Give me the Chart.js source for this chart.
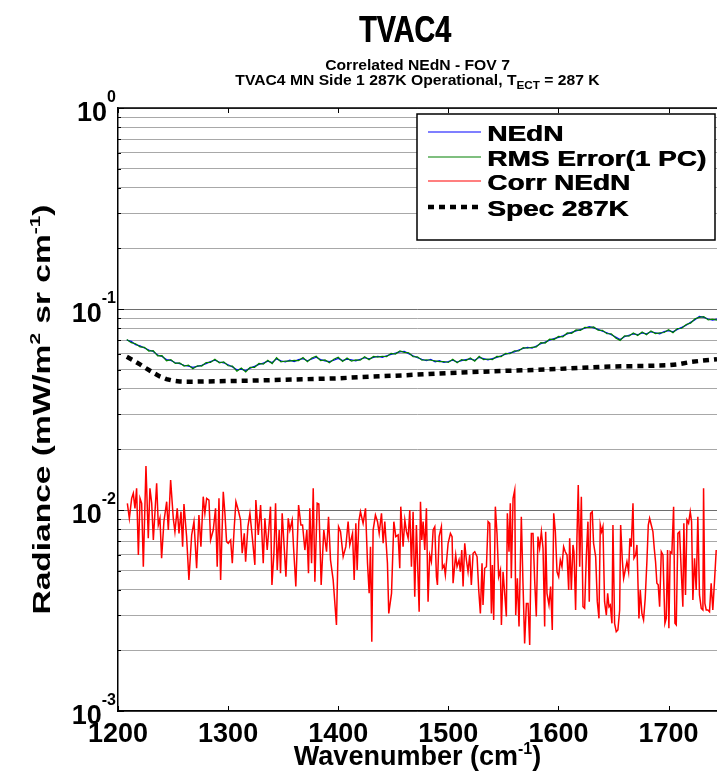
<!DOCTYPE html>
<html><head><meta charset="utf-8">
<script src="https://cdn.jsdelivr.net/npm/chart.js@4.4.1/dist/chart.umd.min.js"></script>
<style>html,body{margin:0;padding:0;background:#fff;}#wrap{width:717px;height:771px;}</style>
</head><body><div id="wrap"><canvas id="c" width="717" height="771"></canvas></div>
<script>
// ---------- texts ----------
const titleText = 'TVAC4';
const subtitle1 = 'Correlated NEdN - FOV 7';
const subtitle2a = 'TVAC4 MN Side 1 287K Operational, T';
const subtitle2sub = 'ECT';
const subtitle2b = ' = 287 K';
const xTitleMain = 'Wavenumber (cm';
const xTitleSup = '-1';
const yTitleA = 'Radiance (mW/m';
const yTitleSup1 = '2';
const yTitleB = ' sr cm';
const yTitleSup2 = '-1';
const legendLabels = ['NEdN', 'RMS Error(1 PC)', 'Corr NEdN', 'Spec 287K'];

// ---------- ticks ----------
const xTicks = [1200, 1300, 1400, 1500, 1600, 1700];
const xTickLabels = ['1200', '1300', '1400', '1500', '1600', '1700'];
const yDecades = [0.001, 0.01, 0.1, 1];
const yDecadeExps = ['-3', '-2', '-1', '0'];
const yMinorMultipliers = [2, 3, 4, 5, 6, 7, 8, 9];

// ---------- data ----------
const nednWn = [1208,1212,1216,1220,1224,1228,1232,1236,1240,1244,1248,1252,1256,1260,1264,1268,1272,1276,1280,1284,1288,1292,1296,1300,1304,1308,1312,1316,1320,1324,1328,1332,1336,1340,1344,1348,1352,1356,1360,1364,1368,1372,1376,1380,1384,1388,1392,1396,1400,1404,1408,1412,1416,1420,1424,1428,1432,1436,1440,1444,1448,1452,1456,1460,1464,1468,1472,1476,1480,1484,1488,1492,1496,1500,1504,1508,1512,1516,1520,1524,1528,1532,1536,1540,1544,1548,1552,1556,1560,1564,1568,1572,1576,1580,1584,1588,1592,1596,1600,1604,1608,1612,1616,1620,1624,1628,1632,1636,1640,1644,1648,1652,1656,1660,1664,1668,1672,1676,1680,1684,1688,1692,1696,1700,1704,1708,1712,1716,1720,1724,1728,1732,1736,1740,1744];
const nednVal = [0.0700,0.0690,0.0665,0.0655,0.0640,0.0625,0.0615,0.0590,0.0580,0.0560,0.0555,0.0540,0.0535,0.0525,0.0520,0.0512,0.0518,0.0525,0.0535,0.0548,0.0556,0.0545,0.0540,0.0528,0.0515,0.0498,0.0502,0.0494,0.0508,0.0518,0.0530,0.0538,0.0550,0.0542,0.0565,0.0552,0.0545,0.0556,0.0548,0.0560,0.0566,0.0553,0.0564,0.0575,0.0560,0.0552,0.0547,0.0556,0.0568,0.0554,0.0563,0.0558,0.0552,0.0562,0.0572,0.0565,0.0574,0.0582,0.0575,0.0585,0.0595,0.0603,0.0612,0.0615,0.0600,0.0585,0.0572,0.0562,0.0553,0.0562,0.0546,0.0553,0.0542,0.0548,0.0556,0.0545,0.0554,0.0560,0.0565,0.0556,0.0575,0.0566,0.0558,0.0566,0.0575,0.0585,0.0596,0.0605,0.0612,0.0625,0.0636,0.0645,0.0638,0.0655,0.0672,0.0684,0.0700,0.0712,0.0722,0.0735,0.0752,0.0765,0.0778,0.0790,0.0802,0.0818,0.0805,0.0792,0.0775,0.0762,0.0745,0.0725,0.0705,0.0728,0.0740,0.0752,0.0745,0.0760,0.0752,0.0770,0.0762,0.0752,0.0772,0.0780,0.0770,0.0792,0.0810,0.0830,0.0858,0.0885,0.0918,0.0908,0.0892,0.0880,0.0890];
const rmsVal = [0.0705,0.0680,0.0672,0.0648,0.0645,0.0618,0.0620,0.0585,0.0586,0.0552,0.0560,0.0536,0.0540,0.0520,0.0526,0.0505,0.0522,0.0520,0.0541,0.0542,0.0562,0.0540,0.0546,0.0522,0.0520,0.0490,0.0508,0.0486,0.0513,0.0512,0.0536,0.0532,0.0556,0.0535,0.0572,0.0546,0.0551,0.0550,0.0555,0.0553,0.0573,0.0547,0.0570,0.0582,0.0553,0.0558,0.0540,0.0562,0.0575,0.0548,0.0570,0.0551,0.0558,0.0556,0.0579,0.0559,0.0581,0.0576,0.0582,0.0579,0.0602,0.0597,0.0619,0.0608,0.0606,0.0579,0.0578,0.0556,0.0559,0.0556,0.0552,0.0547,0.0548,0.0542,0.0562,0.0540,0.0560,0.0554,0.0571,0.0550,0.0581,0.0560,0.0564,0.0560,0.0581,0.0579,0.0602,0.0599,0.0619,0.0618,0.0643,0.0638,0.0645,0.0648,0.0680,0.0677,0.0708,0.0705,0.0730,0.0727,0.0760,0.0757,0.0787,0.0782,0.0811,0.0809,0.0814,0.0784,0.0783,0.0754,0.0753,0.0718,0.0698,0.0736,0.0733,0.0760,0.0738,0.0768,0.0745,0.0778,0.0755,0.0760,0.0764,0.0788,0.0762,0.0800,0.0802,0.0838,0.0850,0.0894,0.0909,0.0917,0.0883,0.0889,0.0881];

const corrWn = [1208.5,1210.3,1212.4,1213.9,1215.4,1216.9,1218.5,1220.0,1221.5,1223.0,1225.4,1227.5,1229.0,1230.6,1232.1,1235.1,1236.6,1238.1,1239.6,1241.7,1244.2,1245.7,1247.8,1250.2,1251.7,1253.8,1255.4,1257.2,1258.7,1259.9,1262.3,1264.4,1266.9,1269.0,1271.4,1273.5,1275.3,1277.4,1278.9,1280.5,1282.6,1284.1,1286.5,1288.6,1290.1,1291.7,1293.2,1295.6,1297.1,1298.6,1300.1,1302.3,1303.8,1305.6,1307.1,1309.2,1311.3,1312.8,1314.7,1315.9,1318.0,1319.8,1321.9,1324.3,1325.2,1327.4,1329.5,1331.9,1333.4,1335.5,1338.5,1339.8,1341.6,1343.1,1344.6,1346.4,1347.6,1349.1,1350.9,1352.5,1354.6,1356.1,1358.2,1359.4,1361.5,1364.0,1366.1,1367.6,1369.7,1371.5,1373.0,1374.2,1375.8,1377.3,1378.8,1380.9,1382.4,1384.5,1386.9,1389.4,1391.2,1393.0,1395.4,1398.4,1400.3,1402.1,1404.5,1406.9,1409.0,1410.5,1413.0,1414.5,1416.0,1417.2,1418.7,1420.2,1422.6,1424.8,1426.6,1428.1,1429.3,1430.5,1431.7,1433.8,1435.7,1437.2,1439.3,1440.8,1442.3,1444.7,1445.9,1448.4,1450.5,1452.3,1454.4,1455.9,1456.8,1458.9,1460.5,1462.0,1463.5,1465.0,1466.5,1468.0,1469.5,1471.0,1473.5,1474.7,1475.9,1477.1,1478.6,1480.1,1481.6,1483.1,1484.6,1486.2,1487.7,1489.2,1490.1,1491.6,1493.7,1494.6,1496.1,1497.3,1499.8,1501.9,1503.4,1504.3,1505.8,1506.7,1507.9,1509.7,1510.9,1512.2,1513.4,1514.9,1516.4,1517.9,1519.4,1520.9,1522.5,1524.0,1526.1,1527.6,1529.1,1530.6,1531.5,1533.0,1534.6,1536.1,1537.6,1539.1,1540.0,1541.2,1542.7,1544.2,1545.7,1547.3,1548.2,1549.7,1551.2,1552.7,1553.6,1555.1,1556.3,1557.2,1558.8,1560.3,1561.2,1562.7,1564.2,1566.3,1567.8,1569.3,1570.9,1572.4,1573.9,1575.4,1576.9,1578.4,1579.9,1581.4,1582.9,1584.5,1586.0,1587.5,1588.4,1589.6,1591.4,1592.9,1594.4,1595.7,1597.2,1598.7,1600.2,1601.7,1603.2,1604.7,1606.2,1607.8,1609.3,1610.2,1611.7,1613.2,1614.1,1615.6,1616.8,1618.0,1619.3,1620.8,1622.3,1623.8,1625.3,1626.8,1628.0,1629.2,1630.7,1631.9,1633.8,1635.3,1636.8,1638.0,1639.2,1640.4,1641.9,1643.5,1644.7,1645.9,1647.1,1648.6,1649.5,1651.0,1652.5,1654.0,1655.6,1656.5,1658.0,1659.2,1660.7,1662.2,1663.7,1664.9,1666.1,1667.7,1668.6,1670.1,1671.3,1673.1,1674.3,1675.8,1677.3,1678.8,1680.4,1681.6,1682.8,1684.3,1685.8,1687.0,1688.2,1689.4,1690.6,1691.9,1693.4,1694.9,1696.7,1697.9,1699.1,1700.3,1701.5,1703.0,1704.6,1705.8,1707.0,1708.5,1710.0,1711.5,1713.0,1713.9,1715.4,1716.7,1718.2,1719.7,1720.9,1722.1,1723.6,1725.1,1726.6,1728.1,1729.7,1731.2,1731.8,1733.0,1734.2,1735.7,1737.2,1738.7,1740.2,1741.8,1743.3];
const corrVal = [0.0108,0.00909,0.01143,0.0121,0.01019,0.01282,0.00597,0.01143,0.0108,0.00522,0.01654,0.00723,0.01282,0.0108,0.00709,0.01358,0.00842,0.00909,0.00575,0.00875,0.0110,0.00795,0.0141,0.00909,0.0078,0.01019,0.00765,0.00981,0.00657,0.0107,0.00737,0.00449,0.00751,0.00875,0.00513,0.00944,0.00657,0.01165,0.00962,0.01143,0.01121,0.00709,0.00795,0.01019,0.00522,0.01143,0.00449,0.01233,0.00962,0.00696,0.00683,0.00709,0.00543,0.00826,0.0110,0.0100,0.00891,0.00609,0.00765,0.00553,0.00826,0.00962,0.00737,0.00533,0.01121,0.00751,0.01059,0.00543,0.00909,0.00632,0.01039,0.00424,0.00609,0.0108,0.00503,0.00795,0.00484,0.00962,0.00657,0.00466,0.00909,0.00795,0.00891,0.00657,0.00416,0.01059,0.00842,0.00842,0.00632,0.00795,0.00484,0.01019,0.00543,0.01282,0.0044,0.0108,0.0107,0.00424,0.00795,0.0062,0.00926,0.00564,0.00449,0.00268,0.00826,0.0078,0.00586,0.00657,0.00875,0.0067,0.00765,0.00449,0.00858,0.00503,0.00875,0.00981,0.00858,0.01019,0.00543,0.00385,0.00657,0.00221,0.00795,0.00944,0.00875,0.00765,0.00962,0.00683,0.00875,0.00543,0.00306,0.00385,0.00875,0.00737,0.00751,0.00513,0.01039,0.00657,0.00891,0.0078,0.00723,0.0100,0.00522,0.00981,0.0037,0.00842,0.00312,0.0110,0.00709,0.00875,0.00632,0.01019,0.0035,0.00597,0.00553,0.00795,0.00826,0.00466,0.00424,0.00737,0.00826,0.00513,0.00533,0.00475,0.00683,0.00765,0.00737,0.00432,0.00533,0.00597,0.00522,0.00564,0.00493,0.00632,0.00416,0.00683,0.00564,0.00493,0.00597,0.00424,0.00609,0.0062,0.00586,0.004,0.00306,0.00543,0.00337,0.00513,0.00522,0.00875,0.00858,0.00306,0.00533,0.00284,0.01039,0.00765,0.00466,0.00503,0.00268,0.00493,0.00385,0.00295,0.00962,0.0062,0.0108,0.00457,0.01143,0.01257,0.003,0.00457,0.00263,0.00926,0.00432,0.00217,0.00343,0.00343,0.00213,0.00765,0.00765,0.00449,0.00295,0.00737,0.00645,0.0078,0.00645,0.00263,0.0078,0.00385,0.00337,0.00416,0.00253,0.00962,0.0078,0.00493,0.00466,0.00564,0.00522,0.00657,0.0062,0.00597,0.004,0.00723,0.004,0.0067,0.0062,0.00318,0.00723,0.01331,0.00522,0.01165,0.0033,0.00324,0.00586,0.00875,0.0035,0.00962,0.00981,0.00683,0.00586,0.0035,0.00289,0.00842,0.0078,0.00826,0.0035,0.003,0.00385,0.0033,0.00337,0.00273,0.00842,0.00273,0.00248,0.00253,0.00318,0.00842,0.00564,0.00457,0.00503,0.00553,0.00493,0.00723,0.00657,0.0108,0.00575,0.00597,0.0067,0.00289,0.004,0.00306,0.00284,0.00363,0.00564,0.00842,0.00909,0.00842,0.0078,0.00645,0.00553,0.00432,0.00424,0.0033,0.0062,0.00597,0.00273,0.00289,0.00632,0.00258,0.0062,0.00609,0.01039,0.00273,0.00268,0.00765,0.0078,0.00503,0.0033,0.00858,0.00378,0.00891,0.00858,0.00981,0.00875,0.00357,0.00575,0.004,0.00926,0.00378,0.00324,0.00318,0.01282,0.00343,0.00318,0.00318,0.00312,0.00432,0.00318,0.00449,0.00632];

const specWn = [1208,1214,1220,1226,1232,1238,1244,1250,1256,1262,1270,1280,1300,1320,1340,1360,1380,1400,1420,1440,1460,1480,1500,1520,1540,1560,1580,1600,1620,1640,1660,1680,1700,1710,1720,1730,1744];
const specVal = [0.0578,0.0555,0.0530,0.0505,0.0482,0.0462,0.0448,0.0440,0.0436,0.0435,0.0435,0.0436,0.0438,0.0440,0.0443,0.0446,0.0449,0.0452,0.0458,0.0463,0.0468,0.0474,0.0480,0.0485,0.0490,0.0494,0.0498,0.0503,0.0510,0.0516,0.0519,0.0521,0.0525,0.0532,0.0545,0.0553,0.0562];

// ---------- helpers ----------
const FONT = '"Liberation Sans", Arial, Helvetica, sans-serif';
const zip = (xs, ys) => xs.map((x, i) => ({x: x, y: ys[i]}));
const yTickVals = [];
yDecades.forEach((d, i) => { yTickVals.push(d); if (i < yDecades.length - 1) yMinorMultipliers.forEach(m => yTickVals.push(+(d * m).toPrecision(3))); });
const isDecade = v => yDecades.some(d => Math.abs(d - v) / d < 1e-6);

function partsWidth(ctx, parts) {
  let w = 0;
  for (const p of parts) { ctx.font = 'bold ' + p.s + 'px ' + FONT; w += ctx.measureText(p.t).width; }
  return w;
}
function drawRich(ctx, parts, x, y, opt) {
  opt = opt || {};
  ctx.save();
  ctx.translate(x, y);
  if (opt.rot) ctx.rotate(opt.rot);
  const w = partsWidth(ctx, parts);
  const sx = opt.width ? opt.width / w : (opt.sx || 1);
  ctx.scale(sx, 1);
  let cx = opt.align === 'center' ? -w / 2 : opt.align === 'right' ? -w : 0;
  ctx.fillStyle = '#000';
  ctx.textBaseline = 'alphabetic';
  ctx.textAlign = 'left';
  for (const p of parts) {
    ctx.font = 'bold ' + p.s + 'px ' + FONT;
    ctx.fillText(p.t, cx, p.dy || 0);
    if (opt.heavy) { ctx.fillText(p.t, cx + 0.6, p.dy || 0); }
    cx += ctx.measureText(p.t).width;
  }
  ctx.restore();
}

const deco = {
  id: 'deco',
  beforeDraw(chart) {
    const c = chart.ctx;
    c.save(); c.fillStyle = '#fff'; c.fillRect(0, 0, chart.width, chart.height); c.restore();
  },
  afterDraw(chart) {
    const c = chart.ctx;
    const a = chart.chartArea;
    const xs = chart.scales.x, ys = chart.scales.y;
    const cxm = (a.left + a.right) / 2;

    // top border and small tick marks
    c.save();
    c.strokeStyle = '#000';
    c.lineWidth = 1.5;
    c.beginPath(); c.moveTo(a.left, a.top); c.lineTo(a.right, a.top); c.stroke();
    c.lineWidth = 1;
    xTicks.forEach(v => {
      const px = Math.round(xs.getPixelForValue(v)) + 0.5;
      c.beginPath(); c.moveTo(px, a.bottom); c.lineTo(px, a.bottom - 5); c.stroke();
      c.beginPath(); c.moveTo(px, a.top); c.lineTo(px, a.top + 5); c.stroke();
    });
    yTickVals.forEach(v => {
      const py = Math.round(ys.getPixelForValue(v)) + 0.5;
      const len = isDecade(v) ? 6 : 3;
      c.beginPath(); c.moveTo(a.left, py); c.lineTo(a.left + len, py); c.stroke();
    });
    c.restore();

    // titles
    drawRich(c, [{t: titleText, s: 37}], 405, 42, {align: 'center', width: 92, heavy: true});
    drawRich(c, [{t: subtitle1, s: 14}], cxm, 70, {align: 'center', sx: 1.12});
    drawRich(c, [{t: subtitle2a, s: 14}, {t: subtitle2sub, s: 10.5, dy: 4}, {t: subtitle2b, s: 14}], cxm, 85, {align: 'center', sx: 1.12});

    // y tick labels
    yDecades.forEach((d, i) => {
      const py = ys.getPixelForValue(d);
      drawRich(c, [{t: '10', s: 27}, {t: yDecadeExps[i], s: 16, dy: -19}], 116, py + 13, {align: 'right'});
    });
    // x tick labels
    xTicks.forEach((v, i) => {
      drawRich(c, [{t: xTickLabels[i], s: 27}], xs.getPixelForValue(v), 742, {align: 'center'});
    });
    // axis titles
    drawRich(c, [{t: xTitleMain, s: 27}, {t: xTitleSup, s: 16, dy: -11}, {t: ')', s: 27}], cxm, 765, {align: 'center'});
    drawRich(c, [{t: yTitleA, s: 24}, {t: yTitleSup1, s: 15, dy: -10}, {t: yTitleB, s: 24}, {t: yTitleSup2, s: 15, dy: -10}, {t: ')', s: 24}],
      50, (a.top + a.bottom) / 2, {align: 'center', rot: -Math.PI / 2, width: 410});

    // legend
    const L = {x: 417, y: 114, w: 298, h: 126};
    c.save();
    c.fillStyle = '#fff'; c.fillRect(L.x, L.y, L.w, L.h);
    c.strokeStyle = '#000'; c.lineWidth = 1.5; c.strokeRect(L.x, L.y, L.w, L.h);
    const rowY = [133, 158, 182, 208];
    const cols = ['#0000ff', '#008000', '#ff0000', '#000'];
    const rmsW = partsWidth(c, [{t: legendLabels[1], s: 22}]);
    const lsx = 219 / rmsW;
    legendLabels.forEach((lab, i) => {
      const yy = rowY[i];
      c.beginPath();
      c.strokeStyle = cols[i];
      if (i === 3) { c.lineWidth = 4.5; c.setLineDash([6, 5]); } else { c.lineWidth = 1.2; c.setLineDash([]); }
      c.moveTo(428, yy - 1); c.lineTo(481, yy - 1); c.stroke();
      c.setLineDash([]);
      drawRich(c, [{t: lab, s: 22}], 487, yy + 8, {align: 'left', sx: lsx, heavy: true});
    });
    c.restore();
  }
};

new Chart(document.getElementById('c'), {
  type: 'line',
  data: {
    datasets: [
      {label: legendLabels[3], data: zip(specWn, specVal), borderColor: '#000', borderWidth: 4.5, borderDash: [6, 5], order: 1},
      {label: legendLabels[2], data: zip(corrWn, corrVal), borderColor: '#ff0000', borderWidth: 1.5, order: 2},
      {label: legendLabels[1], data: zip(nednWn, rmsVal), borderColor: '#008000', borderWidth: 1.2, order: 3},
      {label: legendLabels[0], data: zip(nednWn, nednVal), borderColor: '#0000ff', borderWidth: 1.2, order: 4}
    ]
  },
  options: {
    responsive: false, animation: false, devicePixelRatio: 1,
    layout: {padding: {left: 118, top: 108, right: 0, bottom: 60}},
    elements: {point: {radius: 0}, line: {tension: 0, fill: false}},
    plugins: {legend: {display: false}, tooltip: {enabled: false}},
    scales: {
      x: {
        type: 'linear', min: 1200, max: 1744,
        afterBuildTicks: s => { s.ticks = xTicks.map(v => ({value: v})); },
        ticks: {display: false},
        grid: {display: false, drawTicks: false},
        border: {display: true, color: '#000', width: 1.5}
      },
      y: {
        type: 'logarithmic', min: 0.001, max: 1,
        afterBuildTicks: s => { s.ticks = yTickVals.map(v => ({value: v})); },
        ticks: {display: false},
        grid: {drawTicks: false, color: ctx => isDecade(ctx.tick.value) ? '#6e6e6e' : '#a8a8a8', lineWidth: 1},
        border: {display: true, color: '#000', width: 1.5}
      }
    }
  },
  plugins: [deco]
});
</script></body></html>
